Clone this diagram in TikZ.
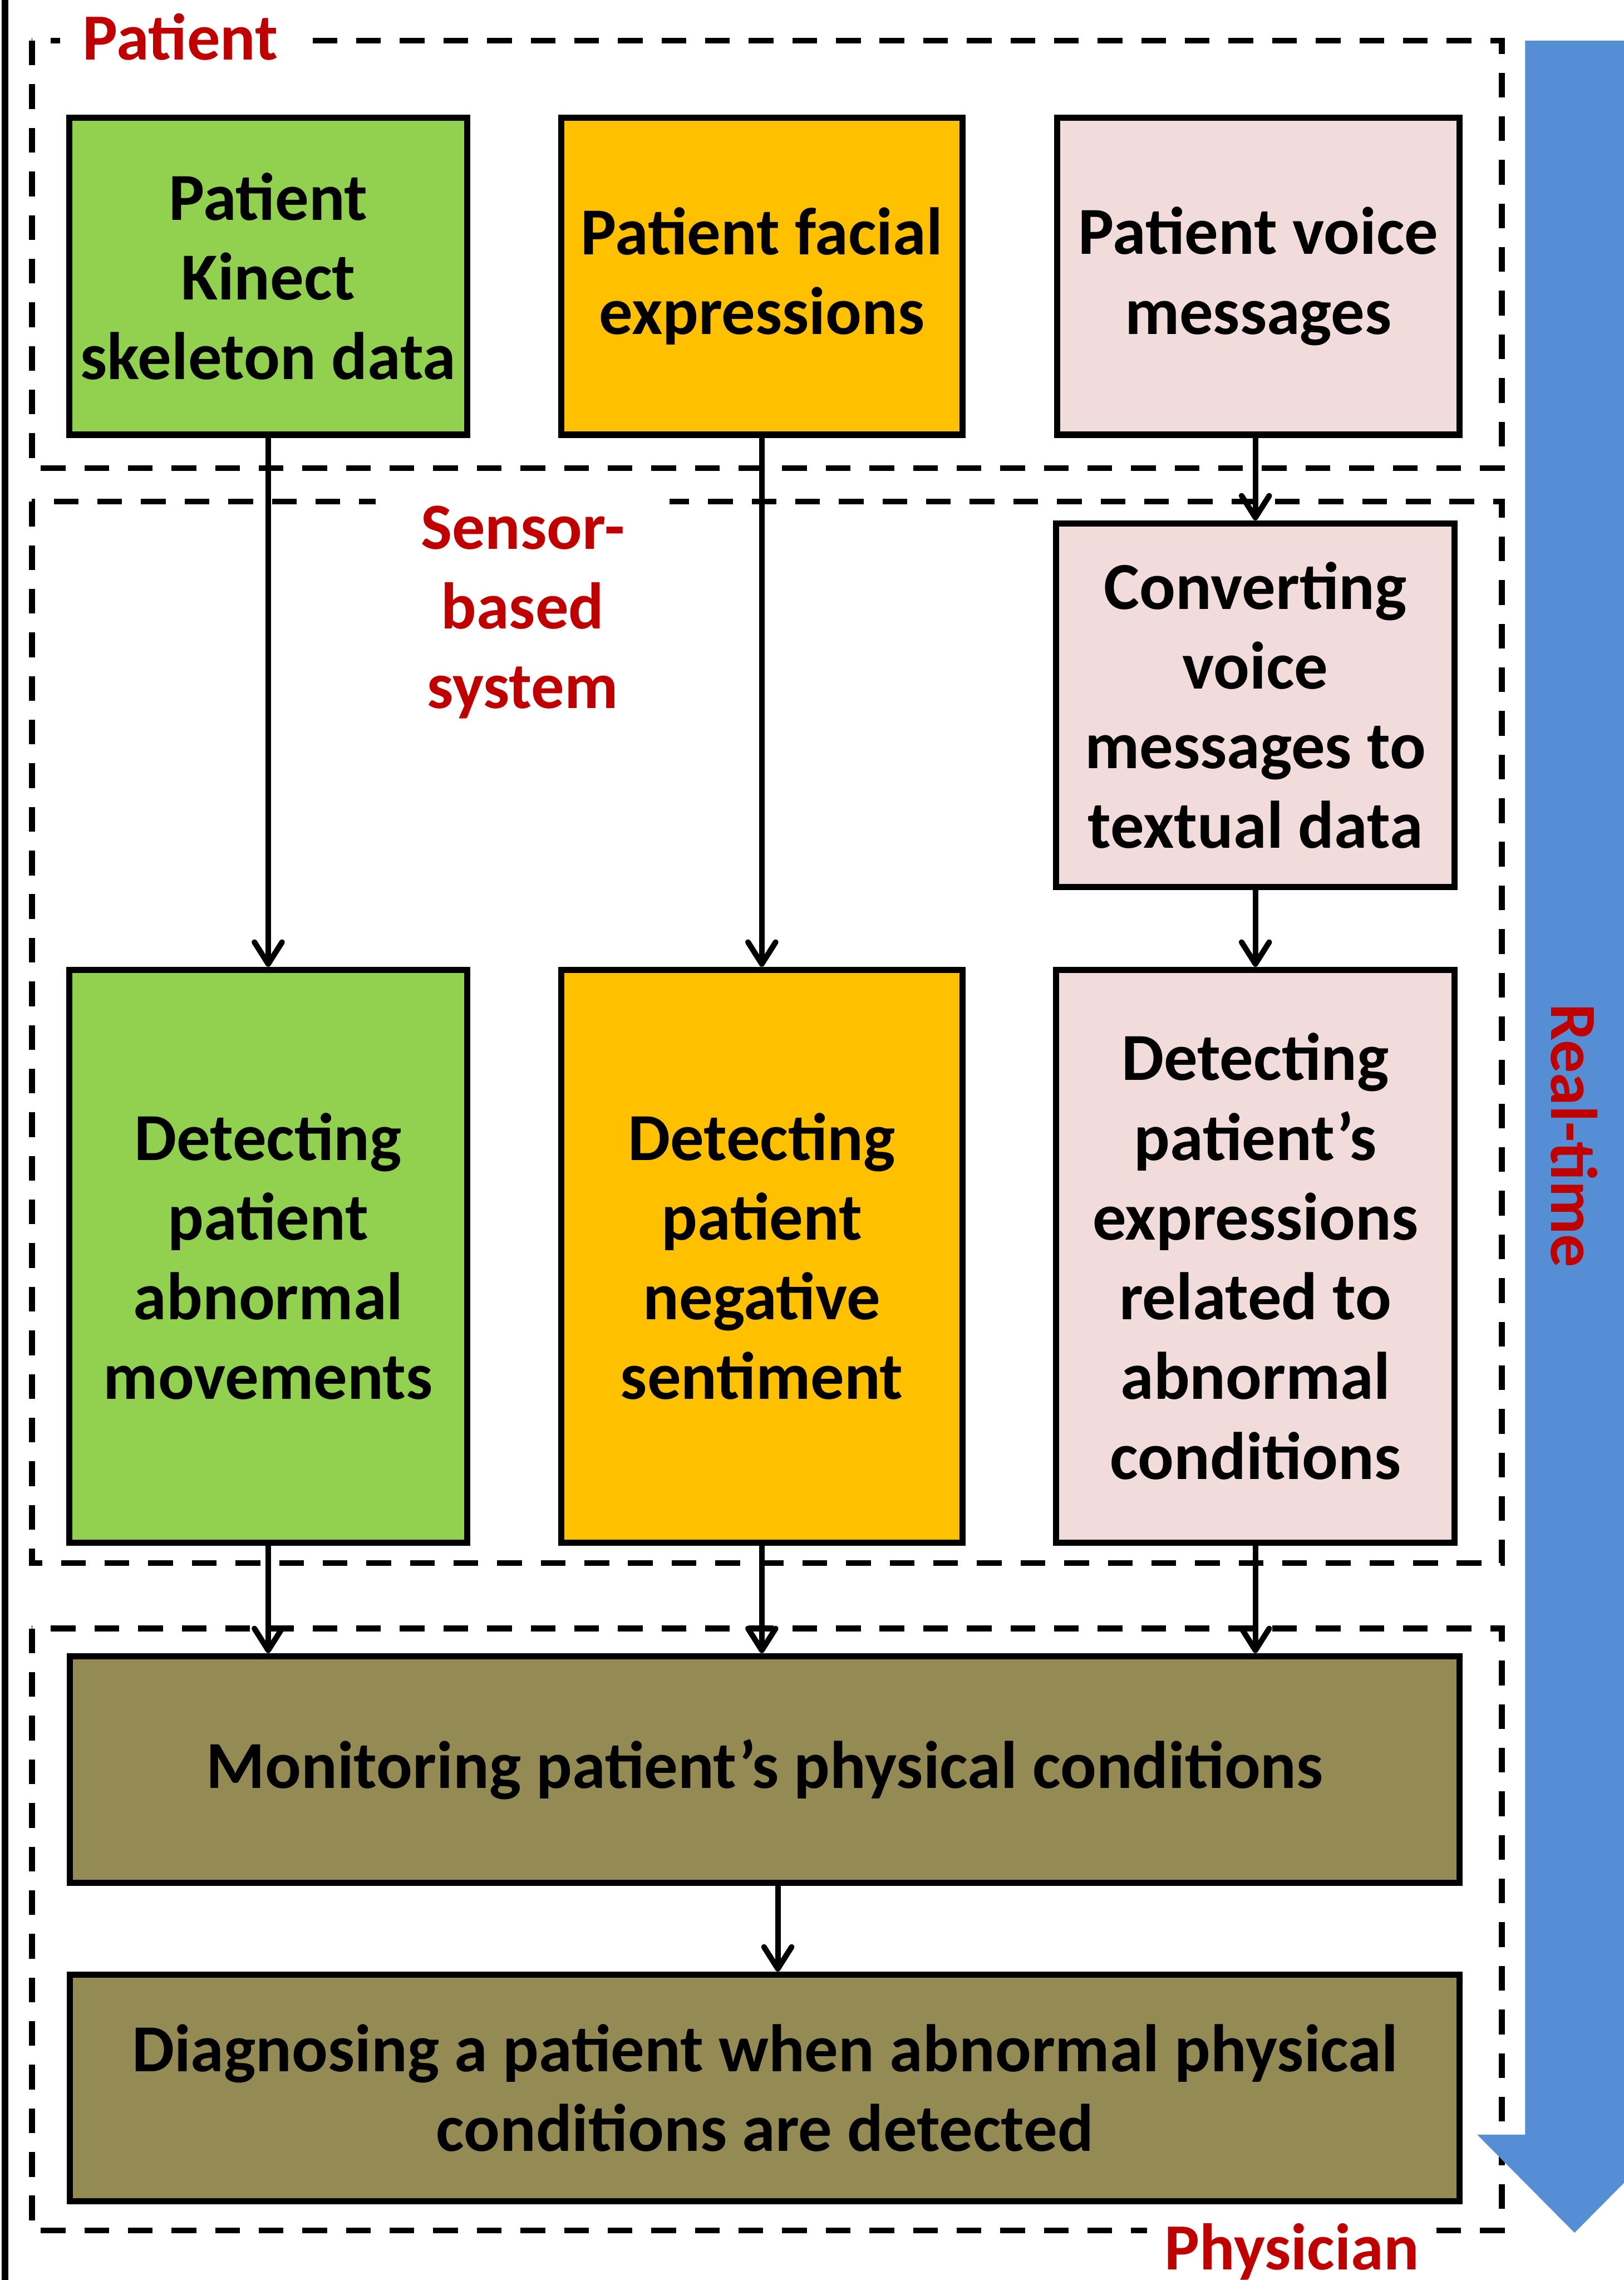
\documentclass[tikz,border=0pt]{standalone}
\usepackage{fontspec}
\setmainfont{Carlito}
\usetikzlibrary{arrows.meta}

\definecolor{kinectgreen}{HTML}{92D050}
\definecolor{facialorange}{HTML}{FFC000}
\definecolor{voicepink}{HTML}{F2DCDB}
\definecolor{doctorolive}{HTML}{948A54}
\definecolor{labelred}{HTML}{C00000}
\definecolor{timeblue}{HTML}{558ED5}

\tikzset{
    bigfont/.style={font={\bfseries\fontsize{12.9}{15.6}\selectfont}},
    boxfont/.style={font={\bfseries\fontsize{13.15}{15.6}\selectfont}},
    box/.style={draw, line width=1.2pt, align=center, inner sep=0pt, boxfont},
    smallbox/.style={box, minimum width=2.74cm, minimum height=2.18cm},
    tallbox/.style={box, minimum width=2.74cm, minimum height=3.94cm},
    widebox/.style={box, minimum width=9.56cm, minimum height=1.56cm, fill=doctorolive},
    group/.style={line width=1.15pt, dash pattern=on 1.7mm off 1.3mm},
    grouplabel/.style={fill=white, text=labelred, align=center, bigfont},
    arr/.style={line width=1.1pt, -{Straight Barb[length=1.5mm,width=1.9mm,round]}}
}

\begin{document}
\begin{tikzpicture}
    \useasboundingbox (0,0) rectangle (11.17,15.68);

    % rule on the left
    \draw[line width=1.3pt] (0.034,0) -- (0.034,15.68);

    % dashed groups
    \draw[group] (0.22,15.40) rectangle (10.33,12.46);
    \draw[group] (0.22,12.23) rectangle (10.33,4.93);
    \draw[group] (0.22,4.48) rectangle (10.33,0.34);

    % group labels
    \node[grouplabel, anchor=base, inner xsep=0.155cm, inner ysep=0.05cm] (lpat) at (1.24,15.27) {Patient};
    \node[grouplabel, inner xsep=0.31cm, inner ysep=0.1cm] (lsens) at (3.595,11.47) {Sensor-\\based\\system};
    \node[grouplabel, anchor=base, inner xsep=0.12cm, inner ysep=0.05cm] (lphys) at (8.885,0.07) {Physician};

    % real-time arrow
    \fill[timeblue] (10.49,15.40) -- (11.17,15.40) -- (11.17,1.00) -- (11.50,1.00)
        -- (10.83,0.325) -- (10.16,1.00) -- (10.49,1.00) -- cycle;
    \node[bigfont, text=labelred, rotate=-90] (rt) at (10.83,7.87) {Real-time};

    % patient data
    \node[smallbox, fill=kinectgreen] (pk) at (1.845,13.78) {Patient\\Kinect\\skeleton data};
    \node[smallbox, fill=facialorange, minimum width=2.76cm] (pf) at (5.24,13.78) {Patient facial\\expressions};
    \node[smallbox, fill=voicepink, minimum width=2.77cm] (pv) at (8.655,13.78) {Patient voice\\messages};

    % sensor-based system
    \node[smallbox, fill=voicepink, minimum height=2.50cm] (cv) at (8.635,10.83) {Converting\\voice\\messages to\\textual data};
    \node[tallbox, fill=kinectgreen] (dm) at (1.845,7.04) {Detecting\\patient\\abnormal\\movements};
    \node[tallbox, fill=facialorange, minimum width=2.76cm] (ds) at (5.24,7.04) {Detecting\\patient\\negative\\sentiment};
    \node[tallbox, fill=voicepink] (de) at (8.635,7.04) {Detecting\\patient’s\\expressions\\related to\\abnormal\\conditions};

    % physician
    \node[widebox] (mon) at (5.26,3.51) {Monitoring patient’s physical conditions};
    \node[widebox] (diag) at (5.26,1.32) {Diagnosing a patient when abnormal physical\\conditions are detected};

    % arrows
    \draw[arr] (pk) -- (dm);
    \draw[arr] (pf) -- (ds);
    \draw[arr] (pv.south -| cv.north) -- (cv);
    \draw[arr] (cv) -- (de);
    \foreach \d in {dm,ds,de}
        \draw[arr] (\d.south) -- (\d.south |- mon.north);
    \draw[arr] ([xshift=0.09cm]mon.south) -- ([xshift=0.09cm]diag.north);
\end{tikzpicture}
\end{document}
